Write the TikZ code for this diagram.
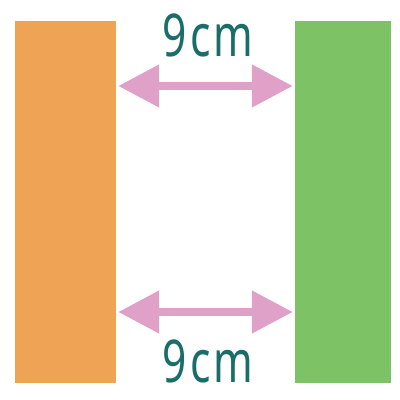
\documentclass[tikz,border=0pt]{standalone}
\usepackage{fontspec}
\setmainfont{Noto Sans}
\usetikzlibrary{calc, arrows.meta}
\definecolor{barorange}{HTML}{EEA355}
\definecolor{bargreen}{HTML}{7DC366}
\definecolor{arrowpink}{HTML}{DFA1C8}
\definecolor{labelteal}{HTML}{1A6E6A}

\begin{document}
\begin{tikzpicture}[x=1pt, y=1pt,
  bar/.style={draw=none, inner sep=0pt, minimum width=#1, minimum height=362pt},
  dimarrow/.style={arrowpink, line width=8pt,
    arrows={Triangle[length=41pt, width=41pt]-Triangle[length=41pt, width=41pt]},
    shorten <=2pt, shorten >=2pt},
  dimlabel/.style={labelteal, inner sep=0pt, anchor=base, xscale=0.72,
    font=\fontsize{59}{62}\selectfont\addfontfeature{LetterSpace=8}},
]
  \useasboundingbox (0,0) rectangle (400,400);
  \node[bar=101pt, fill=barorange] (orange) at (65.5,198) {};
  \node[bar=96pt, fill=bargreen] (green) at (343,198) {};
  \coordinate (T1) at (orange.east |- 0,314);
  \coordinate (T2) at (green.west |- 0,314);
  \coordinate (B1) at (orange.east |- 0,88);
  \coordinate (B2) at (green.west |- 0,88);
  \draw[dimarrow] (T1) -- (T2);
  \draw[dimarrow] (B1) -- (B2);
  \node[dimlabel] (toplabel) at (208,343) {9cm};
  \node[dimlabel] (bottomlabel) at (208,17) {9cm};
\end{tikzpicture}
\end{document}
